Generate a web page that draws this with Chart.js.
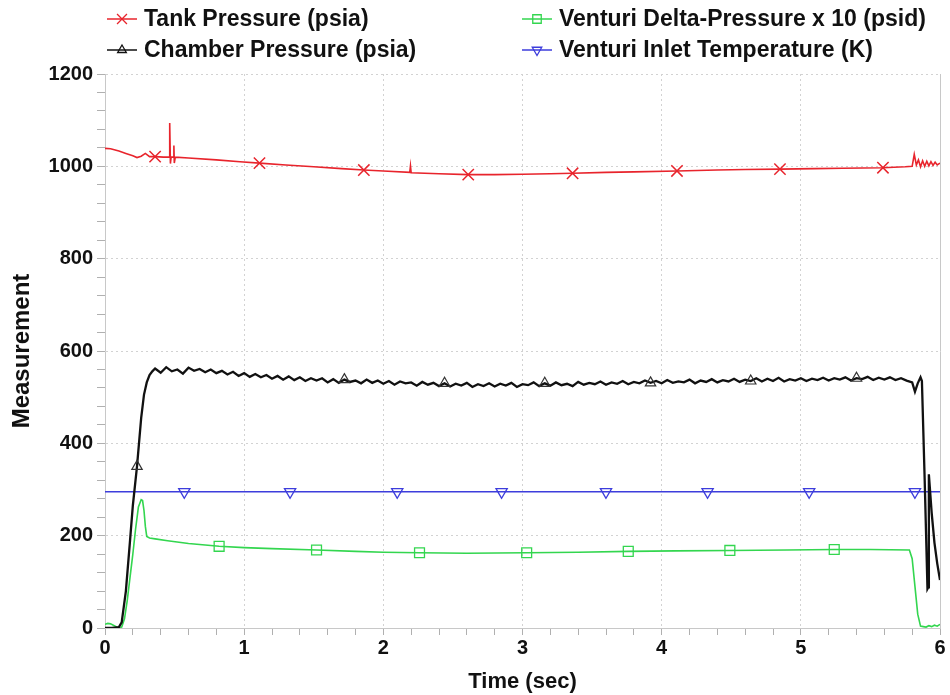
<!DOCTYPE html>
<html>
<head>
<meta charset="utf-8">
<script src="https://cdn.jsdelivr.net/npm/chart.js@4.4.1/dist/chart.umd.min.js"></script>
<style>
    html, body { margin: 0; padding: 0; background: #ffffff; }
</style>
</head>
<body>
<canvas id="testChart" width="950" height="695"></canvas>
<script>
// Tank pressure (psia)
const tankTime = [0, 0.04, 0.10, 0.15, 0.20, 0.23, 0.26, 0.29, 0.32, 0.36, 0.42, 0.46, 0.465, 0.47, 0.475,
    0.492, 0.495, 0.498, 0.505, 0.6, 0.8, 0.97, 1.11, 1.3, 1.5, 1.7, 1.86, 2.0, 2.19, 2.195,
    2.2, 2.4, 2.61, 2.8, 3.0, 3.2, 3.36, 3.6, 3.8, 4.11, 4.4, 4.6, 4.85, 5.1, 5.3,
    5.59, 5.75, 5.80, 5.815, 5.83, 5.845, 5.86, 5.875, 5.89, 5.905, 5.92, 5.935, 5.95, 5.965, 5.98, 6.0];
const tankPsia = [1039, 1038, 1033, 1028, 1023, 1019, 1022, 1028, 1021, 1021, 1020, 1020, 1094, 1006, 1020,
    1020, 1045, 1007, 1020, 1018, 1014, 1010, 1007, 1003, 999, 995, 992, 990, 987, 1001,
    986, 984, 982, 982, 983, 984, 985, 987, 988, 990, 992, 993, 994, 995, 996,
    997, 999, 1000, 1026, 1003, 1014, 999, 1012, 1000, 1011, 1001, 1010, 1002, 1009, 1003, 1007];
const tankMarks = [0.36, 1.11, 1.86, 2.61, 3.36, 4.11, 4.85, 5.59];

// Chamber pressure (psia): ignition rise, steady run sampled every 0.04 s from 0.36 s, shutdown
const chamberRiseTime = [0, 0.05, 0.10, 0.12, 0.15, 0.18, 0.20, 0.23, 0.26, 0.28, 0.30, 0.32, 0.34];
const chamberRisePsia = [0, 0, 2, 12, 80, 190, 265, 350, 455, 505, 532, 548, 556];
const chamberRunStart = 0.36;
const chamberRunStep = 0.04;
const chamberRunPsia = [
    562, 553, 565, 556, 560, 551, 564, 557, 561, 554,
    560, 552, 557, 549, 555, 546, 552, 544, 550, 543,
    548, 540, 546, 538, 545, 537, 543, 535, 541, 536,
    541, 532, 539, 531, 538, 533, 536, 530, 538, 531,
    536, 529, 535, 527, 534, 530, 532, 525, 533, 527,
    531, 524, 530, 523, 529, 525, 531, 522, 528, 524,
    530, 523, 529, 525, 531, 522, 528, 526, 532, 524,
    530, 525, 532, 526, 529, 524, 533, 527, 531, 528,
    534, 527, 532, 529, 535, 528, 533, 530, 536, 531,
    535, 530, 537, 531, 534, 532, 538, 530, 536, 533,
    539, 532, 537, 534, 540, 533, 538, 535, 541, 534,
    540, 535, 542, 534, 539, 536, 541, 535, 540, 537,
    542, 536, 541, 538, 543, 536, 541, 539, 544, 537,
    542, 538, 543, 537, 541, 536, 532];
const chamberEndTime = [5.82, 5.84, 5.86, 5.87, 5.89, 5.91, 5.915, 5.92, 5.94, 5.96, 5.98, 6.0];
const chamberEndPsia = [512, 530, 543, 535, 320, 85, 88, 333, 250, 185, 140, 104];
const chamberMarks = [0.23, 1.72, 2.44, 3.16, 3.92, 4.64, 5.40];

// Venturi delta-pressure x 10 (psid)
const deltaTime = [0, 0.02, 0.04, 0.06, 0.08, 0.10, 0.12, 0.14, 0.16, 0.18, 0.20, 0.22, 0.24, 0.26, 0.27,
    0.28, 0.29, 0.30, 0.32, 0.36, 0.45, 0.60, 0.82, 1.00, 1.20, 1.52, 1.80, 2.00, 2.26, 2.60,
    3.03, 3.40, 3.76, 4.10, 4.49, 4.90, 5.24, 5.50, 5.78, 5.80, 5.82, 5.84, 5.86, 5.88, 5.90,
    5.92, 5.94, 5.96, 5.98, 6.00];
const deltaPsid10 = [8, 10, 9, 6, 3, 0, 2, 20, 60, 110, 160, 215, 262, 278, 276,
    255, 220, 198, 195, 193, 189, 183, 177, 174, 172, 169, 166, 164, 163, 162,
    163, 164, 166, 167, 168, 169, 170, 170, 169, 150, 90, 30, 4, 3, 2,
    5, 3, 6, 4, 8];
const deltaMarks = [0.82, 1.52, 2.26, 3.03, 3.76, 4.49, 5.24];

// Venturi inlet temperature (K)
const tempTime = [0, 0.57, 1.33, 2.10, 2.85, 3.60, 4.33, 5.06, 5.82, 6.00];
const tempK = [295, 295, 295, 295, 295, 295, 295, 295, 295, 295];
const tempMarks = [0.57, 1.33, 2.10, 2.85, 3.60, 4.33, 5.06, 5.82];

// Axis ticks
const xMajorTicks = [0, 1, 2, 3, 4, 5, 6];
const xMinorStep = 0.2;
const yMajorTicks = [0, 200, 400, 600, 800, 1000, 1200];
const yMinorStep = 40;

const FONT = "'Liberation Sans', Arial, sans-serif";
const TEXT = "#111111";

function toPoints(xs, ys) {
    return xs.map((x, i) => ({ x: x, y: ys[i] }));
}

function stepTicks(max, step) {
    const out = [];
    for (let v = 0; v <= max + step / 2; v += step) {
        out.push({ value: Math.round(v * 1000) / 1000 });
    }
    return out;
}

function isMajor(v, majors) {
    return majors.some(m => Math.abs(m - v) < 1e-6);
}

function markerRadius(marks, r) {
    return ctx => (ctx.raw && isMajor(ctx.raw.x, marks)) ? r : 0;
}

const chamberPoints = toPoints(chamberRiseTime, chamberRisePsia)
    .concat(chamberRunPsia.map((y, k) => ({
        x: Math.round((chamberRunStart + chamberRunStep * k) * 1000) / 1000,
        y: y,
    })))
    .concat(toPoints(chamberEndTime, chamberEndPsia));

// Legend drawn as two columns: short line with the series marker, then the label
const legendSlots = [
    { x: 122, y: 19 },
    { x: 122, y: 50 },
    { x: 537, y: 19 },
    { x: 537, y: 50 },
];

const twoColumnLegend = {
    id: "twoColumnLegend",
    afterDraw(chart) {
        const ctx = chart.ctx;
        ctx.save();
        chart.data.datasets.forEach((ds) => {
            const slot = legendSlots[ds.legendSlot];
            ctx.strokeStyle = ds.borderColor;
            ctx.lineWidth = 1.5;
            ctx.beginPath();
            ctx.moveTo(slot.x - 15, slot.y);
            ctx.lineTo(slot.x + 15, slot.y);
            ctx.stroke();
            ctx.fillStyle = "rgba(0,0,0,0)";
            ctx.lineWidth = 1.3;
            Chart.helpers.drawPoint(ctx, {
                pointStyle: ds.pointStyle,
                rotation: ds.pointRotation || 0,
                radius: ds.legendRadius,
                borderWidth: 1.3,
            }, slot.x, slot.y);
            ctx.fillStyle = TEXT;
            ctx.font = "bold 23px " + FONT;
            ctx.textBaseline = "middle";
            ctx.textAlign = "left";
            ctx.fillText(ds.label, slot.x + 22, slot.y + 1);
        });
        ctx.restore();
    },
};

const ctx = document.getElementById("testChart").getContext("2d");
const testChart = new Chart(ctx, {
    type: "line",
    data: {
        datasets: [
            {
                label: "Tank Pressure (psia)",
                data: toPoints(tankTime, tankPsia),
                borderColor: "#e8242c",
                borderWidth: 1.6,
                pointStyle: "crossRot",
                pointRadius: markerRadius(tankMarks, 8),
                pointBorderColor: "#e8242c",
                pointBackgroundColor: "rgba(0,0,0,0)",
                pointBorderWidth: 1.5,
                legendSlot: 0,
                legendRadius: 7,
            },
            {
                label: "Chamber Pressure (psia)",
                data: chamberPoints,
                borderColor: "#111111",
                borderWidth: 2.3,
                pointStyle: "triangle",
                pointRadius: markerRadius(chamberMarks, 6),
                pointBorderColor: "#333333",
                pointBackgroundColor: "rgba(0,0,0,0)",
                pointBorderWidth: 1.2,
                legendSlot: 1,
                legendRadius: 5,
            },
            {
                label: "Venturi Delta-Pressure x 10 (psid)",
                data: toPoints(deltaTime, deltaPsid10),
                borderColor: "#33d64f",
                borderWidth: 1.6,
                pointStyle: "rect",
                pointRadius: markerRadius(deltaMarks, 7),
                pointBorderColor: "#33d64f",
                pointBackgroundColor: "rgba(0,0,0,0)",
                pointBorderWidth: 1.3,
                legendSlot: 2,
                legendRadius: 6,
            },
            {
                label: "Venturi Inlet Temperature (K)",
                data: toPoints(tempTime, tempK),
                borderColor: "#3d3ddc",
                borderWidth: 1.6,
                pointStyle: "triangle",
                pointRotation: 180,
                pointRadius: markerRadius(tempMarks, 6.5),
                pointBorderColor: "#3d3ddc",
                pointBackgroundColor: "rgba(0,0,0,0)",
                pointBorderWidth: 1.3,
                legendSlot: 3,
                legendRadius: 5.5,
            },
        ],
    },
    options: {
        responsive: false,
        animation: false,
        events: [],
        layout: {
            padding: { top: 74, right: 10, bottom: 0, left: 0 },
        },
        elements: {
            line: { tension: 0, fill: false },
            point: { hoverRadius: 0 },
        },
        plugins: {
            legend: { display: false },
            tooltip: { enabled: false },
        },
        scales: {
            x: {
                type: "linear",
                min: 0,
                max: 6,
                afterBuildTicks: scale => { scale.ticks = stepTicks(6, xMinorStep); },
                afterFit: scale => { scale.height = 67; },
                ticks: {
                    autoSkip: false,
                    maxRotation: 0,
                    padding: 1,
                    color: TEXT,
                    font: { family: FONT, size: 20, weight: "bold" },
                    callback: v => isMajor(v, xMajorTicks) ? String(Math.round(v)) : "",
                },
                grid: {
                    color: c => (c.tick && isMajor(c.tick.value, xMajorTicks)) ? "#d2d2d2" : "rgba(0,0,0,0)",
                    tickColor: "#b0b0b0",
                    tickLength: 7,
                },
                border: { color: "#c8c8c8", width: 1, dash: [2, 3] },
                title: {
                    display: true,
                    text: "Time (sec)",
                    color: TEXT,
                    font: { family: FONT, size: 22, weight: "bold" },
                    padding: { top: 2, bottom: 0 },
                },
            },
            y: {
                min: 0,
                max: 1200,
                afterBuildTicks: scale => { scale.ticks = stepTicks(1200, yMinorStep); },
                afterFit: scale => { scale.width = 105; },
                ticks: {
                    autoSkip: false,
                    padding: 4,
                    color: TEXT,
                    font: { family: FONT, size: 20, weight: "bold" },
                    callback: v => isMajor(v, yMajorTicks) ? String(v) : "",
                },
                grid: {
                    color: c => (c.tick && isMajor(c.tick.value, yMajorTicks)) ? "#d2d2d2" : "rgba(0,0,0,0)",
                    tickColor: "#b0b0b0",
                    tickLength: 8,
                },
                border: { color: "#c8c8c8", width: 1, dash: [2, 3] },
                title: {
                    display: true,
                    text: "Measurement",
                    color: TEXT,
                    font: { family: FONT, size: 24, weight: "bold" },
                    padding: { top: 8, bottom: 0 },
                },
            },
            yRight: {
                position: "right",
                min: 0,
                max: 1200,
                afterFit: scale => { scale.width = 0; },
                ticks: { display: false },
                grid: { drawOnChartArea: false, drawTicks: false },
                border: { color: "#c8c8c8", width: 1 },
            },
        },
    },
    plugins: [twoColumnLegend],
});
</script>
</body>
</html>
